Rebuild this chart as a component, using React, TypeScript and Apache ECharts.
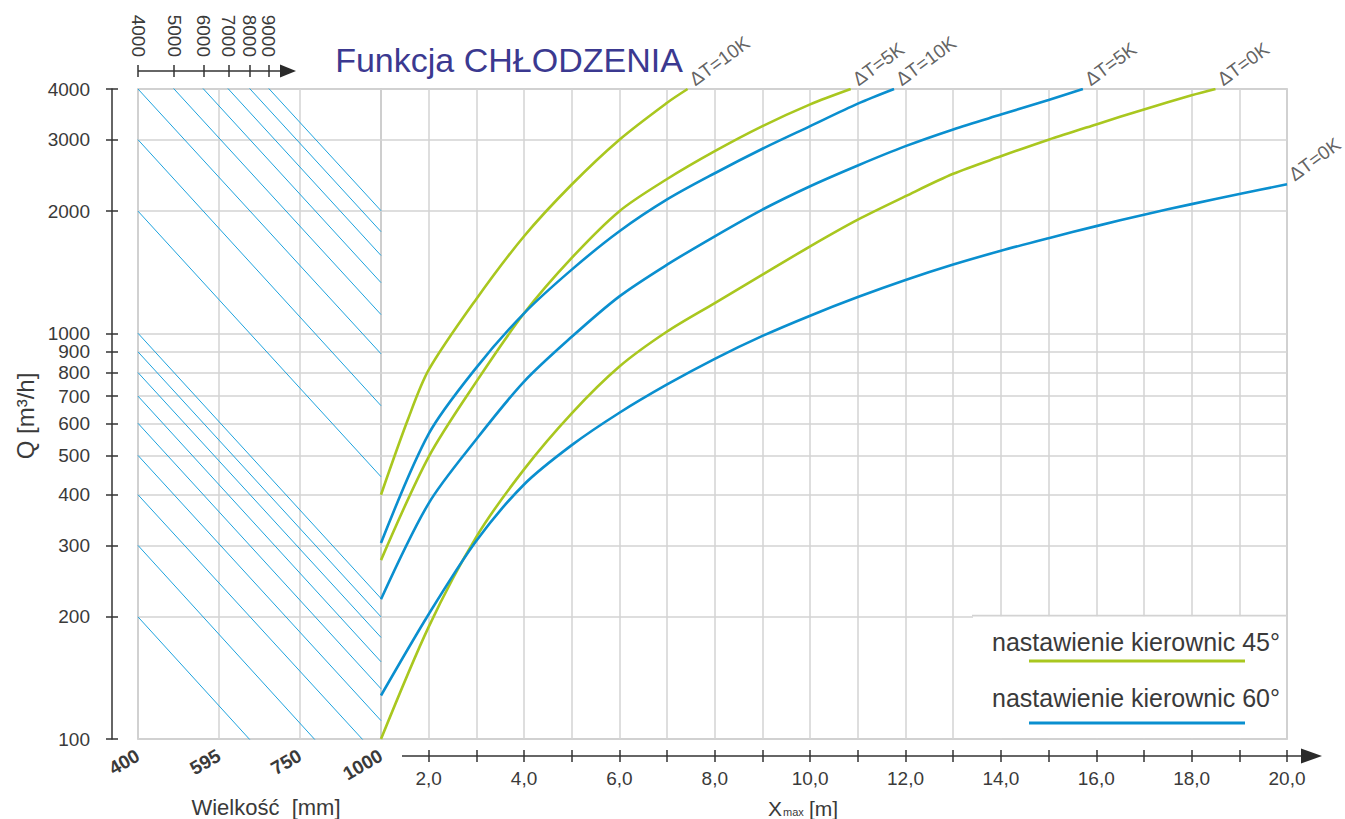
import React, { useEffect, useRef } from "react";
import * as echarts from "echarts";

const FONT = "'Liberation Sans', Arial, sans-serif";
const TEXT = "#3a3a3a";
const GRID = "#d3d3d3";
const BORDER = "#bababa";
const GREEN = "#a9c71f";
const BLUE = "#0a8fcf";
const THIN = "#1ea3de";

// Left panel (size chart)
const sizeLabels = ["400", "595", "750", "1000"];
const topAxisTicks = [4000, 5000, 6000, 7000, 8000, 9000];
const qTicks = [100, 200, 300, 400, 500, 600, 700, 800, 900, 1000, 2000, 3000, 4000];
const diagStartQ = [200, 300, 400, 500, 600, 700, 800, 900, 1000, 2000, 3000, 4000, 5000, 6000, 7000, 8000, 9000];
const diagEndQ = [44, 66, 89, 111, 133, 155, 178, 200, 222, 443, 663, 890, 1112, 1333, 1555, 1780, 2005];

// Right panel (throw chart)
const xmaxTicks = [2, 3, 4, 5, 6, 7, 8, 9, 10, 11, 12, 13, 14, 15, 16, 17, 18, 19, 20];
const xmaxLabelValues = [2, 4, 6, 8, 10, 12, 14, 16, 18, 20];

// 45° (green)
const g10X = [1, 1.56, 2, 3, 4, 5, 6, 7, 7.43];
const g10Q = [400, 611, 812, 1215, 1734, 2326, 3000, 3700, 4000];
const g5X = [1, 2, 3, 4, 5, 6, 7, 8, 9, 10, 10.85];
const g5Q = [276, 496, 760, 1120, 1534, 2000, 2400, 2811, 3240, 3666, 4000];
const g0X = [1, 2, 3, 4, 5, 6, 7, 8, 9, 10, 11, 12, 13, 14, 15, 16, 17, 18, 18.5];
const g0Q = [100, 189, 315, 462, 635, 828, 1010, 1187, 1394, 1638, 1906, 2177, 2472, 2730, 3000, 3272, 3563, 3860, 4000];

// 60° (blue)
const b10X = [1, 2, 3, 4, 5, 6, 7, 8, 9, 10, 11, 11.76];
const b10Q = [304, 565, 823, 1120, 1435, 1784, 2137, 2480, 2850, 3240, 3681, 4000];
const b5X = [1, 2, 3, 4, 5, 6, 7, 8, 9, 10, 11, 12, 13, 14, 15, 15.72];
const b5Q = [221, 381, 548, 760, 980, 1233, 1476, 1734, 2018, 2304, 2592, 2892, 3180, 3460, 3760, 4000];
const b0X = [1, 2, 3, 4, 5, 6, 7, 8, 9, 10, 11, 12, 13, 14, 15, 16, 17, 18, 19, 20];
const b0Q = [128, 203, 308, 424, 530, 637, 748, 865, 985, 1105, 1228, 1353, 1477, 1597, 1715, 1837, 1960, 2081, 2204, 2329];

const curves = [
  { x: g10X, q: g10Q, color: GREEN, tag: "ΔT=10K" },
  { x: g5X, q: g5Q, color: GREEN, tag: "ΔT=5K" },
  { x: g0X, q: g0Q, color: GREEN, tag: "ΔT=0K" },
  { x: b10X, q: b10Q, color: BLUE, tag: "ΔT=10K" },
  { x: b5X, q: b5Q, color: BLUE, tag: "ΔT=5K" },
  { x: b0X, q: b0Q, color: BLUE, tag: "ΔT=0K" },
];

const legendItems = [
  { text: "nastawienie kierownic 45°", color: GREEN },
  { text: "nastawienie kierownic 60°", color: BLUE },
];

const axisFont = { fontFamily: FONT, fontSize: 19, color: TEXT };
const tickStyle = { color: "#333", width: 1.5 };
const intFmt = (v: number) => String(Math.round(v));

export default function App() {
  const ref = useRef<HTMLDivElement>(null);

  useEffect(() => {
    if (!ref.current) return;
    const chart = echarts.init(ref.current, undefined, { renderer: "svg" });

    const grids = [
      { left: 138, top: 89, width: 243, height: 650, show: true, borderColor: BORDER, borderWidth: 1.5, backgroundColor: "transparent" },
      { left: 381, top: 89, width: 906, height: 650, show: true, borderColor: BORDER, borderWidth: 1.5, backgroundColor: "transparent" },
    ];

    const xAxes: any[] = [
      {
        gridIndex: 0, type: "value", min: 0, max: 3, interval: 1, position: "bottom",
        axisLine: { show: false, onZero: false }, axisTick: { show: false },
        axisLabel: {
          formatter: (v: number) => sizeLabels[Math.round(v)] ?? "",
          rotate: 30, margin: 15, fontWeight: "bold", fontSize: 19, color: TEXT, fontFamily: FONT,
        },
        splitLine: { show: true, lineStyle: { color: GRID, width: 1.5 } },
      },
      {
        gridIndex: 0, type: "log", logBase: 10, min: 4000, max: 18018, position: "top", offset: 18,
        axisLine: { show: false, onZero: false },
        axisTick: { show: true, inside: false, length: 6, customValues: topAxisTicks, lineStyle: tickStyle },
        axisLabel: { show: true, customValues: topAxisTicks, rotate: 90, margin: 14, formatter: intFmt, ...axisFont },
        splitLine: { show: false },
      },
      {
        gridIndex: 0, type: "log", logBase: 10, min: 4000, max: 18018, position: "top", offset: 18,
        axisLine: { show: false, onZero: false },
        axisTick: { show: true, inside: true, length: 6, customValues: topAxisTicks, lineStyle: tickStyle },
        axisLabel: { show: false },
        splitLine: { show: false },
      },
      {
        gridIndex: 1, type: "value", min: 1, max: 20, interval: 1, position: "bottom", offset: 17,
        axisLine: { show: false, onZero: false },
        axisTick: { show: true, inside: false, length: 6, customValues: xmaxTicks, lineStyle: tickStyle },
        axisLabel: {
          customValues: xmaxLabelValues, margin: 13,
          formatter: (v: number) => v.toFixed(1).replace(".", ","), ...axisFont,
        },
        splitLine: { show: true, lineStyle: { color: GRID, width: 1.5 } },
      },
      {
        gridIndex: 1, type: "value", min: 1, max: 20, interval: 1, position: "bottom", offset: 17,
        axisLine: { show: false, onZero: false },
        axisTick: { show: true, inside: true, length: 6, customValues: xmaxTicks, lineStyle: tickStyle },
        axisLabel: { show: false },
        splitLine: { show: false },
      },
    ];

    const yAxes: any[] = [
      {
        gridIndex: 0, type: "log", logBase: 10, min: 100, max: 4000, position: "left", offset: 26,
        axisLine: { show: true, onZero: false, lineStyle: { color: "#333", width: 1.5 } },
        axisTick: { show: true, inside: false, length: 6, customValues: qTicks, lineStyle: tickStyle },
        axisLabel: { customValues: qTicks, margin: 22, formatter: intFmt, ...axisFont },
        splitLine: { show: true, lineStyle: { color: GRID, width: 1.5 } },
      },
      {
        gridIndex: 0, type: "log", logBase: 10, min: 100, max: 4000, position: "left", offset: 26,
        axisLine: { show: false, onZero: false },
        axisTick: { show: true, inside: true, length: 6, customValues: qTicks, lineStyle: tickStyle },
        axisLabel: { show: false },
        splitLine: { show: false },
      },
      {
        gridIndex: 1, type: "log", logBase: 10, min: 100, max: 4000, position: "left",
        axisLine: { show: false, onZero: false },
        axisTick: { show: false, customValues: qTicks },
        axisLabel: { show: false },
        splitLine: { show: true, lineStyle: { color: GRID, width: 1.5 } },
      },
    ];

    const diagSeries = diagStartQ.map((q0, i) => ({
      type: "line", xAxisIndex: 0, yAxisIndex: 0, silent: true, clip: true,
      data: [[0, q0], [3, diagEndQ[i]]],
      symbol: "none", lineStyle: { color: THIN, width: 1 }, z: 3,
    }));

    const curveSeries = curves.map((c) => ({
      type: "line", xAxisIndex: 3, yAxisIndex: 2, silent: true, clip: true,
      data: c.x.map((x, i) => [x, c.q[i]]),
      smooth: 0.3,
      symbol: "none", lineStyle: { color: c.color, width: 2.6 }, z: 4,
    }));

    const labelSeries = {
      type: "scatter", xAxisIndex: 3, yAxisIndex: 2, silent: true, clip: false,
      symbolSize: 1, itemStyle: { color: "transparent" },
      data: curves.map((c) => ({
        value: [c.x[c.x.length - 1], c.q[c.q.length - 1]],
        label: { formatter: c.tag },
      })),
      label: {
        show: true, position: "right", distance: 9, rotate: 36, align: "left", verticalAlign: "bottom",
        fontSize: 19, color: TEXT, fontFamily: FONT,
      },
      z: 5,
    };

    const graphics: any[] = [
      {
        type: "text", x: 509, y: 60, z: 10,
        style: { text: "Funkcja CHŁODZENIA", fill: "#3b3990", fontSize: 34, fontFamily: FONT, align: "center", verticalAlign: "middle" },
      },
      {
        type: "text", x: 25, y: 416, rotation: Math.PI / 2, z: 10,
        style: { text: "Q [m³/h]", fill: TEXT, fontSize: 24, fontFamily: FONT, align: "center", verticalAlign: "middle" },
      },
      {
        type: "text", x: 266, y: 807, z: 10,
        style: { text: "Wielkość  [mm]", fill: TEXT, fontSize: 22, fontFamily: FONT, align: "center", verticalAlign: "middle" },
      },
      { type: "text", x: 768, y: 819, z: 10, style: { text: "X", fill: TEXT, fontSize: 21, fontFamily: FONT, align: "left", verticalAlign: "bottom" } },
      { type: "text", x: 783, y: 817, z: 10, style: { text: "max", fill: TEXT, fontSize: 11, fontFamily: FONT, align: "left", verticalAlign: "bottom" } },
      { type: "text", x: 809, y: 819, z: 10, style: { text: "[m]", fill: TEXT, fontSize: 21, fontFamily: FONT, align: "left", verticalAlign: "bottom" } },
      // top axis line with arrow
      { type: "line", z: 10, shape: { x1: 138, y1: 71, x2: 283, y2: 71 }, style: { stroke: "#333", lineWidth: 1.5 } },
      { type: "polygon", z: 10, shape: { points: [[280, 64.5], [296, 71], [280, 77.5]] }, style: { fill: "#2a2a2a" } },
      // bottom axis line with arrow
      { type: "line", z: 10, shape: { x1: 402, y1: 756, x2: 1304, y2: 756 }, style: { stroke: "#333", lineWidth: 1.5 } },
      { type: "polygon", z: 10, shape: { points: [[1301, 748.5], [1322, 756], [1301, 763.5]] }, style: { fill: "#2a2a2a" } },
      // legend box
      { type: "rect", z: 10, shape: { x: 973, y: 616.5, width: 313, height: 121.5 }, style: { fill: "#ffffff" } },
      { type: "line", z: 11, shape: { x1: 972, y1: 615.5, x2: 1287, y2: 615.5 }, style: { stroke: GRID, lineWidth: 1.5 } },
    ];
    legendItems.forEach((it, i) => {
      const yText = 642 + i * 56;
      const yLine = 661 + i * 62;
      graphics.push({
        type: "text", x: 1280, y: yText, z: 11,
        style: { text: it.text, fill: TEXT, fontSize: 25, fontFamily: FONT, align: "right", verticalAlign: "middle" },
      });
      graphics.push({
        type: "line", z: 11, shape: { x1: 1029, y1: yLine, x2: 1245, y2: yLine },
        style: { stroke: it.color, lineWidth: 3 },
      });
    });

    chart.setOption({
      animation: false,
      backgroundColor: "#ffffff",
      grid: grids,
      xAxis: xAxes,
      yAxis: yAxes,
      series: [...diagSeries, ...curveSeries, labelSeries],
      graphic: graphics,
    });

    return () => chart.dispose();
  }, []);

  return (
    <div
      ref={ref}
      style={{ position: "fixed", left: 0, top: 0, width: 1345, height: 819, background: "#fff" }}
    />
  );
}
